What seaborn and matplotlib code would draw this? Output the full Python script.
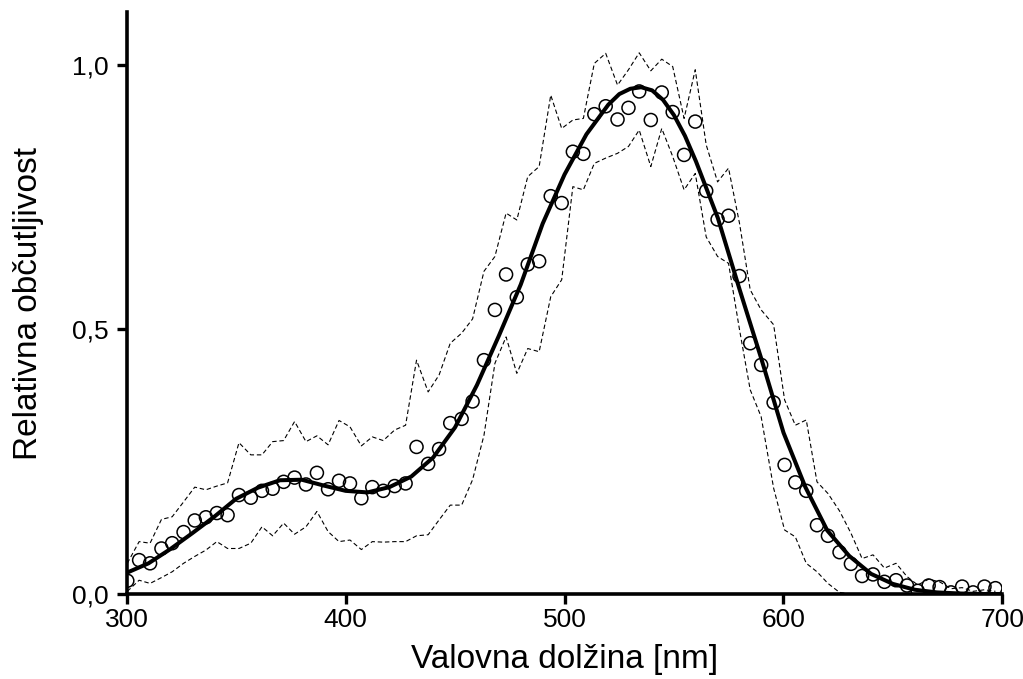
import matplotlib
matplotlib.use("Agg")
import matplotlib.pyplot as plt
import seaborn as sns
import pandas as pd

# ---- data ----
wavelength = [300.3, 305.7, 310.7, 315.9, 320.8, 326.0, 331.1, 336.2, 341.2, 346.1,
              351.3, 356.7, 361.8, 366.7, 371.7, 376.7, 381.9, 386.9, 392.0, 397.0,
              402.0, 407.2, 412.2, 417.2, 422.4, 427.4, 432.4, 437.7, 442.7, 447.8,
              453.0, 458.0, 463.2, 468.2, 473.3, 478.2, 483.2, 488.4, 493.7, 498.7,
              503.8, 508.6, 513.6, 518.8, 524.2, 529.2, 534.1, 539.4, 544.4, 549.4,
              554.6, 559.7, 564.7, 569.9, 574.9, 579.9, 584.8, 589.8, 595.5, 600.5,
              605.4, 610.4, 615.3, 620.3, 625.6, 630.8, 635.9, 640.9, 646.1, 651.4,
              656.4, 661.3, 666.3, 671.3, 676.5, 681.6, 686.6, 691.8, 696.8]

sensitivity = [0.025, 0.064, 0.058, 0.086, 0.096, 0.117, 0.139, 0.145, 0.153, 0.149,
               0.187, 0.182, 0.195, 0.199, 0.212, 0.220, 0.207, 0.229, 0.198, 0.214,
               0.209, 0.181, 0.202, 0.195, 0.204, 0.209, 0.278, 0.246, 0.274, 0.323,
               0.331, 0.364, 0.442, 0.537, 0.604, 0.561, 0.623, 0.629, 0.752, 0.739,
               0.836, 0.832, 0.907, 0.922, 0.897, 0.919, 0.950, 0.896, 0.948, 0.911,
               0.830, 0.893, 0.762, 0.708, 0.715, 0.601, 0.474, 0.433, 0.362, 0.244,
               0.211, 0.195, 0.130, 0.110, 0.079, 0.057, 0.034, 0.037, 0.023, 0.026,
               0.016, 0.006, 0.016, 0.013, 0.003, 0.014, 0.003, 0.014, 0.011]

upper = [0.058, 0.099, 0.096, 0.141, 0.146, 0.174, 0.202, 0.197, 0.204, 0.210,
         0.286, 0.263, 0.263, 0.288, 0.290, 0.326, 0.288, 0.299, 0.282, 0.328,
         0.316, 0.280, 0.297, 0.290, 0.310, 0.319, 0.442, 0.382, 0.414, 0.474,
         0.493, 0.520, 0.610, 0.638, 0.720, 0.707, 0.789, 0.808, 0.943, 0.880,
         0.896, 0.899, 1.003, 1.022, 0.962, 0.991, 1.023, 0.989, 1.011, 0.997,
         0.899, 0.991, 0.849, 0.779, 0.805, 0.701, 0.575, 0.537, 0.509, 0.367,
         0.319, 0.329, 0.212, 0.190, 0.157, 0.115, 0.067, 0.074, 0.049, 0.058,
         0.033, 0.017, 0.028, 0.023, 0.010, 0.012, 0.005, 0.008, 0.005]

lower = [0.005, 0.026, 0.020, 0.031, 0.042, 0.058, 0.071, 0.083, 0.099, 0.086,
         0.086, 0.096, 0.127, 0.110, 0.134, 0.113, 0.127, 0.156, 0.118, 0.099,
         0.102, 0.084, 0.099, 0.098, 0.099, 0.099, 0.110, 0.112, 0.140, 0.168,
         0.168, 0.216, 0.300, 0.436, 0.486, 0.417, 0.464, 0.458, 0.562, 0.594,
         0.770, 0.764, 0.814, 0.824, 0.833, 0.846, 0.877, 0.808, 0.880, 0.827,
         0.764, 0.795, 0.675, 0.638, 0.625, 0.500, 0.386, 0.335, 0.200, 0.121,
         0.108, 0.058, 0.042, 0.020, 0.003, 0.000, 0.000, 0.000, 0.000, 0.000,
         0.000, 0.000, 0.000, 0.000, 0.000, 0.000, 0.000, 0.000, 0.000]

fit_wavelength = [300, 310, 320, 330, 340, 350, 360, 370, 380, 390, 400, 410, 420,
                  430, 440, 450, 460, 470, 480, 490, 500, 510, 520, 525, 530, 535,
                  540, 545, 550, 555, 560, 570, 580, 590, 600, 610, 620, 630, 640,
                  650, 660, 670, 680, 690, 700]
fit_values = [0.040, 0.058, 0.085, 0.115, 0.146, 0.180, 0.201, 0.215, 0.216, 0.205,
              0.195, 0.192, 0.202, 0.222, 0.258, 0.315, 0.395, 0.488, 0.585, 0.700,
              0.793, 0.869, 0.925, 0.945, 0.955, 0.958, 0.952, 0.934, 0.905, 0.866,
              0.818, 0.711, 0.575, 0.443, 0.305, 0.202, 0.120, 0.072, 0.038, 0.019,
              0.008, 0.003, 0.001, 0.000, 0.000]

x_ticks = [300, 400, 500, 600, 700]
y_ticks = [0.0, 0.5, 1.0]
y_tick_labels = ["0,0", "0,5", "1,0"]

# ---- plotting ----
sns.set_theme(style="ticks")
plt.rcParams["font.family"] = ["Liberation Sans", "DejaVu Sans"]

fig = plt.figure(figsize=(10.23, 6.79), dpi=100)
ax = fig.add_axes([0.1238, 0.1252, 0.8561, 0.857])

pts = pd.DataFrame({"wl": wavelength, "s": sensitivity, "up": upper, "lo": lower})
fit = pd.DataFrame({"wl": fit_wavelength, "v": fit_values})

for col in ["up", "lo"]:
    sns.lineplot(data=pts, x="wl", y=col, ax=ax, color="black", linewidth=0.8,
                 dashes=False, estimator=None, sort=False, linestyle=(0, (4, 2.5)))

sns.lineplot(data=fit, x="wl", y="v", ax=ax, color="black", linewidth=2.9,
             estimator=None, sort=False, zorder=3)

sns.scatterplot(data=pts, x="wl", y="s", ax=ax, marker="o", s=88,
                facecolors="none", edgecolor="black", linewidth=1.1, zorder=4)

ax.set_xlim(300, 700)
ax.set_ylim(0, 1.1)
ax.set_xticks(x_ticks)
ax.set_xticklabels([str(t) for t in x_ticks])
ax.set_yticks(y_ticks)
ax.set_yticklabels(y_tick_labels)

for side in ["top", "right"]:
    ax.spines[side].set_visible(False)
for side in ["left", "bottom"]:
    ax.spines[side].set_linewidth(2.6)
    ax.spines[side].set_color("black")

ax.tick_params(axis="x", which="major", length=7, width=2.4, color="black",
               labelsize=19, labelcolor="black", pad=3)
ax.tick_params(axis="y", which="major", length=7, width=2.4, color="black",
               labelsize=19, labelcolor="black", pad=6)

ax.set_xlabel("Valovna dolžina [nm]", fontsize=24, color="black", labelpad=9)
ax.set_ylabel("Relativna občutljivost", fontsize=24, color="black", labelpad=20)

fig.savefig("out.png", dpi=100)
